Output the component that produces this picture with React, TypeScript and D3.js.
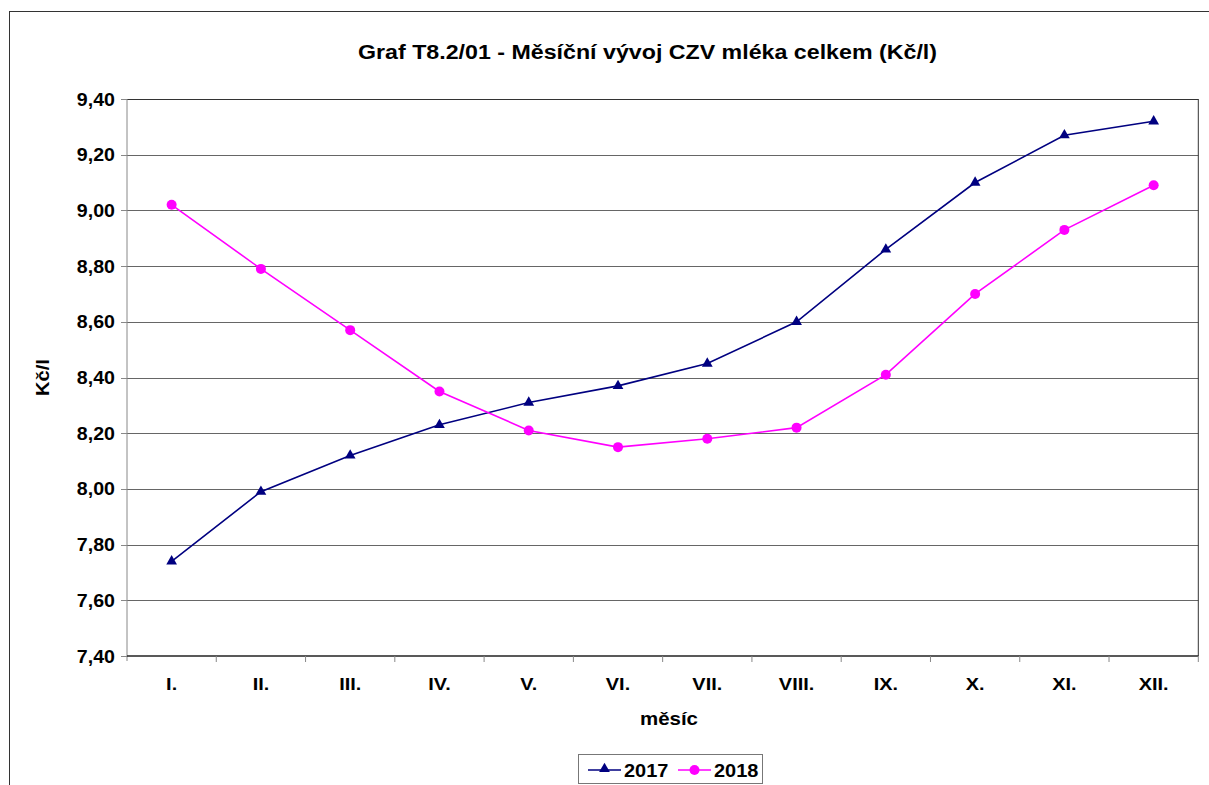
import * as React from 'react';
import * as d3 from 'd3';

const months = ['I.', 'II.', 'III.', 'IV.', 'V.', 'VI.', 'VII.', 'VIII.', 'IX.', 'X.', 'XI.', 'XII.'];
const values2017 = [7.74, 7.99, 8.12, 8.23, 8.31, 8.37, 8.45, 8.6, 8.86, 9.1, 9.27, 9.32];
const values2018 = [9.02, 8.79, 8.57, 8.35, 8.21, 8.15, 8.18, 8.22, 8.41, 8.7, 8.93, 9.09];
const yTicks = [7.4, 7.6, 7.8, 8.0, 8.2, 8.4, 8.6, 8.8, 9.0, 9.2, 9.4];

const width = 1209;
const height = 785;
const margin = { top: 99, right: 10, bottom: 129, left: 127 };
const font = '"Liberation Sans", Arial, sans-serif';

// text widened horizontally, like the stretched reference rendering
function Txt(props: { x: number; y: number; size: number; anchor?: string; sx?: number; children: React.ReactNode }) {
  const { x, y, size, anchor = 'middle', sx = 1.17, children } = props;
  return (
    <text
      transform={`translate(${x},${y}) scale(${sx},1)`}
      textAnchor={anchor}
      fontSize={size}
      fontWeight="bold"
    >
      {children}
    </text>
  );
}

export default function App() {
  const x = d3
    .scaleBand<string>()
    .domain(months)
    .range([margin.left, width - margin.right - 0.7]);
  const y = d3
    .scaleLinear()
    .domain([7.4, 9.4])
    .range([height - margin.bottom, margin.top]);

  const cx = (i: number) => x(months[i])! + x.bandwidth() / 2;
  const line = d3
    .line<number>()
    .x((_, i) => cx(i))
    .y(d => y(d));

  const fmt = (v: number) => v.toFixed(2).replace('.', ',');
  const tri = d3.symbol(d3.symbolTriangle, 50)()!;
  const left = margin.left;
  const right = width - margin.right - 0.7;
  const top = margin.top;
  const bottom = height - margin.bottom;

  return (
    <svg
      width={width}
      height={height}
      style={{ position: 'absolute', left: 0, top: 0, background: '#fff' }}
      fontFamily={font}
    >
      <rect x={9.5} y={11.5} width={width + 10} height={height + 10} fill="none" stroke="#333" strokeWidth={1} />

      <text
        x={358}
        y={59}
        fontSize={19.5}
        fontWeight="bold"
        textLength={579}
        lengthAdjust="spacingAndGlyphs"
      >
        Graf T8.2/01 - Měsíční vývoj CZV mléka celkem (Kč/l)
      </text>

      {yTicks.map(t => (
        <g key={t}>
          {t > 7.4 && t < 9.4 && (
            <line x1={left} x2={right} y1={Math.round(y(t)) + 0.5} y2={Math.round(y(t)) + 0.5} stroke="#666" strokeWidth={1} />
          )}
          <line x1={left - 6} x2={left} y1={Math.round(y(t)) + 0.5} y2={Math.round(y(t)) + 0.5} stroke="#888" />
          <Txt x={left - 12} y={y(t) + 6.5} size={17.5} anchor="end" sx={1.12}>
            {fmt(t)}
          </Txt>
        </g>
      ))}

      <line x1={left} x2={right} y1={top + 0.5} y2={top + 0.5} stroke="#333" />
      <line x1={right} x2={right} y1={top} y2={bottom} stroke="#333" />
      <line x1={left} x2={left} y1={top} y2={bottom + 5} stroke="#888" />
      <line x1={left} x2={right} y1={bottom} y2={bottom} stroke="#222" strokeWidth={1.5} />

      {months.map((m, i) => (
        <g key={m}>
          <line
            x1={x(m)! + x.bandwidth()}
            x2={x(m)! + x.bandwidth()}
            y1={bottom}
            y2={bottom + 6}
            stroke="#888"
          />
          <Txt x={cx(i)} y={bottom + 34} size={17}>
            {m}
          </Txt>
        </g>
      ))}

      <Txt x={669} y={725} size={17.5}>
        měsíc
      </Txt>
      <text
        transform={`translate(49, ${(top + bottom) / 2}) rotate(-90) scale(1.15,1)`}
        textAnchor="middle"
        fontSize={17.5}
        fontWeight="bold"
      >
        Kč/l
      </text>

      <path d={line(values2017)!} fill="none" stroke="#000080" strokeWidth={1.6} />
      {values2017.map((v, i) => (
        <path key={'a' + i} d={tri} transform={`translate(${cx(i)},${y(v)})`} fill="#000080" />
      ))}

      <path d={line(values2018)!} fill="none" stroke="#ff00ff" strokeWidth={1.6} />
      {values2018.map((v, i) => (
        <circle key={'b' + i} cx={cx(i)} cy={y(v)} r={5} fill="#ff00ff" />
      ))}

      <g>
        <rect x={578.5} y={754.5} width={184} height={29} fill="#fff" stroke="#777" />
        <line x1={588} x2={621} y1={770} y2={770} stroke="#000080" strokeWidth={1.6} />
        <path d={tri} transform="translate(604.5,769)" fill="#000080" />
        <Txt x={624} y={777} size={19} anchor="start" sx={1.05}>
          2017
        </Txt>
        <line x1={678} x2={711} y1={770} y2={770} stroke="#ff00ff" strokeWidth={1.6} />
        <circle cx={694.5} cy={770} r={5} fill="#ff00ff" />
        <Txt x={714} y={777} size={19} anchor="start" sx={1.05}>
          2018
        </Txt>
      </g>
    </svg>
  );
}
